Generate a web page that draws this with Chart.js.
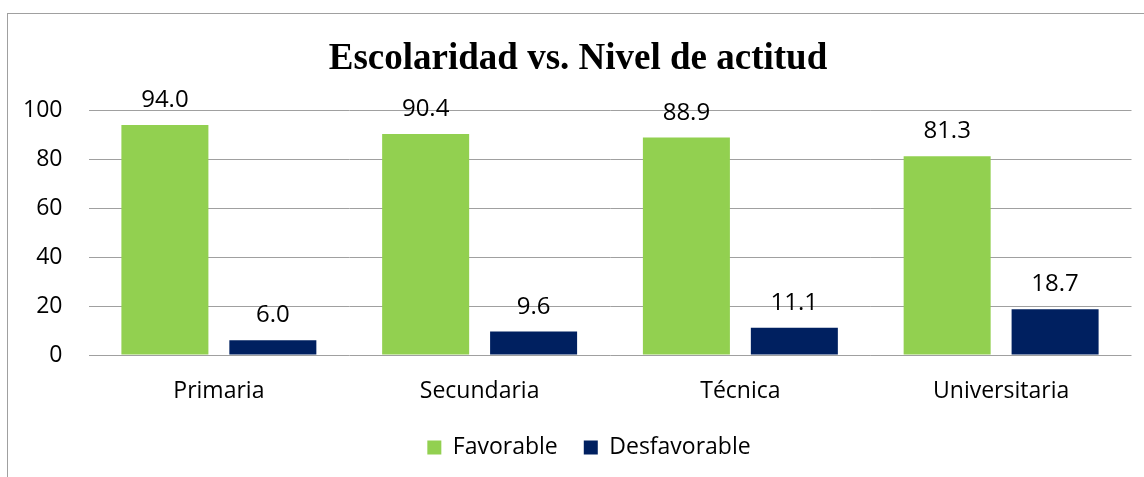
<!DOCTYPE html>
<html>
<head>
<meta charset="utf-8">
<script src="https://cdn.jsdelivr.net/npm/chart.js@4.4.1/dist/chart.umd.min.js"></script>
<style>
  html, body { margin: 0; padding: 0; background: #ffffff; overflow: hidden; width: 1144px; height: 477px; }
  #box { position: absolute; left: 7px; top: 13px; width: 1160px; height: 480px; border-left: 1.5px solid #a0a0a0; border-top: 1.5px solid #a0a0a0; box-sizing: border-box; }
  #wrap { position: absolute; left: 0; top: 0; width: 1146px; height: 478px; }
</style>
</head>
<body>
<div id="box"><div id="wrap"><canvas id="c"></canvas></div></div>
<script>
const titleText = "Escolaridad vs. Nivel de actitud";
const categories = ["Primaria", "Secundaria", "Técnica", "Universitaria"];
const favorable = [94.0, 90.4, 88.9, 81.3];
const desfavorable = [6.0, 9.6, 11.1, 18.7];
const seriesNames = ["Favorable", "Desfavorable"];
const yTicks = [0, 20, 40, 60, 80, 100];

const FONT = "'Open Sans', 'Noto Sans', sans-serif";

const valueLabels = {
  id: 'valueLabels',
  afterDatasetsDraw(chart) {
    const ctx = chart.ctx;
    ctx.save();
    ctx.font = "24px " + FONT;
    ctx.fillStyle = "#000000";
    ctx.textAlign = "center";
    ctx.textBaseline = "alphabetic";
    chart.data.datasets.forEach((ds, i) => {
      const meta = chart.getDatasetMeta(i);
      meta.data.forEach((bar, j) => {
        ctx.fillText(ds.data[j].toFixed(1), bar.x, bar.y - 18);
      });
    });
    ctx.restore();
  }
};

const legendShift = {
  id: 'legendShift',
  afterLayout(chart) {
    if (chart.legend) { chart.legend.left += 11; chart.legend.right += 11; }
  }
};

new Chart(document.getElementById('c'), {
  type: 'bar',
  data: {
    labels: categories,
    datasets: [
      { label: seriesNames[0], data: favorable, backgroundColor: '#92D050', categoryPercentage: 0.828, barPercentage: 0.806 },
      { label: seriesNames[1], data: desfavorable, backgroundColor: '#002060', categoryPercentage: 0.828, barPercentage: 0.806 }
    ]
  },
  plugins: [valueLabels, legendShift],
  options: {
    responsive: true,
    maintainAspectRatio: false,
    animation: false,
    layout: { padding: { left: 16.5, right: 22.5, top: 0, bottom: 23 } },
    plugins: {
      title: {
        display: true,
        text: titleText,
        color: '#000000',
        font: { family: "'Liberation Serif', 'Times New Roman', serif", size: 37, weight: 'bold' },
        padding: { top: 23, bottom: 29 }
      },
      legend: {
        display: true,
        position: 'bottom',
        labels: {
          color: '#000000',
          font: { family: FONT, size: 23 },
          boxWidth: 14,
          boxHeight: 14,
          padding: 26
        }
      },
      tooltip: { enabled: false }
    },
    scales: {
      x: {
        grid: { display: false, drawTicks: false },
        border: { display: false },
        ticks: { color: '#000000', font: { family: FONT, size: 23 }, padding: 23, maxRotation: 0 },
        afterFit(axis) { axis.height = 55; }
      },
      y: {
        min: 0,
        max: 100,
        afterBuildTicks(axis) { axis.ticks = yTicks.map(v => ({ value: v })); },
        grid: { color: '#a0a0a0', lineWidth: 1, drawTicks: false },
        border: { display: false },
        ticks: { color: '#000000', font: { family: FONT, size: 23 }, padding: 26 },
        afterFit(axis) { axis.width = 64; }
      }
    }
  }
});
</script>
</body>
</html>
